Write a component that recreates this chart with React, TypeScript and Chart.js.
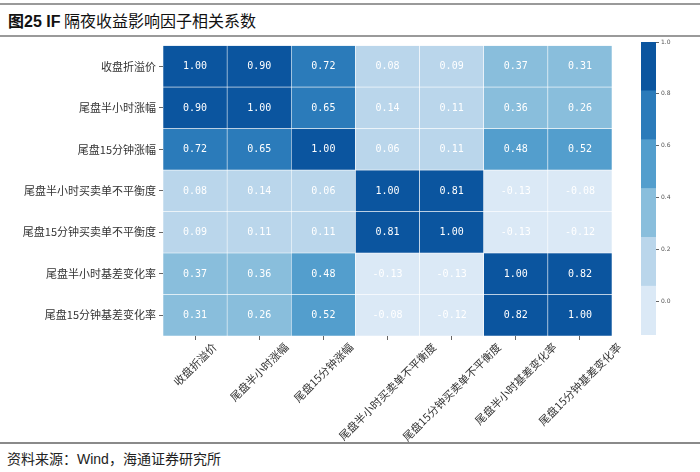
import React, { useEffect, useRef } from "react";
import { Chart, registerables } from "chart.js";

Chart.register(...registerables);

// ---- data ----
const rowLabels = [
  "收盘折溢价",
  "尾盘半小时涨幅",
  "尾盘15分钟涨幅",
  "尾盘半小时买卖单不平衡度",
  "尾盘15分钟买卖单不平衡度",
  "尾盘半小时基差变化率",
  "尾盘15分钟基差变化率",
];
const colLabels = rowLabels;

const row1 = [1.0, 0.9, 0.72, 0.08, 0.09, 0.37, 0.31];
const row2 = [0.9, 1.0, 0.65, 0.14, 0.11, 0.36, 0.26];
const row3 = [0.72, 0.65, 1.0, 0.06, 0.11, 0.48, 0.52];
const row4 = [0.08, 0.14, 0.06, 1.0, 0.813, -0.13, -0.08];
const row5 = [0.09, 0.11, 0.11, 0.813, 1.0, -0.13, -0.12];
const row6 = [0.37, 0.36, 0.48, -0.13, -0.13, 1.0, 0.82];
const row7 = [0.31, 0.26, 0.52, -0.08, -0.12, 0.82, 1.0];
const matrix = [row1, row2, row3, row4, row5, row6, row7];

const cbMin = -0.13;
const cbMax = 1.0;
const cbTicks = [0, 0.2, 0.4, 0.6, 0.8, 1.0];
const cbColors = ["#dbe9f6", "#bad6eb", "#89bedc", "#539ecd", "#2b7bba", "#0b559f"];

const cbStep = (cbMax - cbMin) / cbColors.length;
function colorFor(v: number) {
  let i = Math.floor((v - cbMin) / cbStep + 1e-9);
  if (i < 0) i = 0;
  if (i > cbColors.length - 1) i = cbColors.length - 1;
  return cbColors[i];
}

const CJK = "'Noto Sans CJK SC', 'Noto Sans', sans-serif";

export default function App() {
  const mainRef = useRef<HTMLCanvasElement>(null);
  const cbRef = useRef<HTMLCanvasElement>(null);

  useEffect(() => {
    const cellLabels = {
      id: "cellLabels",
      afterDatasetsDraw(chart: any) {
        const ctx = chart.ctx;
        ctx.save();
        ctx.font = "10px 'DejaVu Sans Mono', monospace";
        ctx.fillStyle = "#ffffff";
        ctx.textAlign = "center";
        ctx.textBaseline = "middle";
        chart.data.datasets.forEach((_ds: any, r: number) => {
          const meta = chart.getDatasetMeta(r);
          meta.data.forEach((el: any, c: number) => {
            const p = el.getProps(["x", "y", "base"], true);
            ctx.fillText(matrix[r][c].toFixed(2), p.x, (p.y + p.base) / 2 + 0.5);
          });
        });
        ctx.restore();
      },
    };

    const xLabels = {
      id: "xLabels",
      afterDraw(chart: any) {
        const ctx = chart.ctx;
        const sx = chart.scales.x;
        ctx.save();
        ctx.font = "11px " + CJK;
        ctx.fillStyle = "#333333";
        ctx.textAlign = "center";
        ctx.textBaseline = "middle";
        colLabels.forEach((lab, i) => {
          const x = sx.getPixelForTick(i);
          const L = ctx.measureText(lab).width;
          const h = 11;
          const half = ((L + h) * Math.SQRT1_2) / 2;
          ctx.save();
          ctx.translate(x, sx.top + 5 + half);
          ctx.rotate(-Math.PI / 4);
          ctx.fillText(lab, 0, 0);
          ctx.restore();
        });
        ctx.restore();
      },
    };

    const main = new Chart(mainRef.current as HTMLCanvasElement, {
      type: "bar",
      data: {
        labels: colLabels,
        datasets: matrix.map((row, r) => ({
          label: rowLabels[r],
          data: row.map(() => 1),
          backgroundColor: row.map((v) => colorFor(v)),
          borderColor: "rgba(255,255,255,0.75)",
          borderWidth: 0.6,
          borderSkipped: false,
          barPercentage: 1,
          categoryPercentage: 1,
        })),
      },
      options: {
        animation: false,
        responsive: false,
        maintainAspectRatio: false,
        layout: { padding: { top: 6, right: 18, left: 0, bottom: 0 } },
        plugins: {
          legend: { display: false },
          tooltip: { enabled: false },
        },
        scales: {
          x: {
            type: "category",
            stacked: true,
            grid: {
              offset: false,
              drawOnChartArea: false,
              drawTicks: true,
              tickLength: 4,
              color: "#666666",
            },
            border: { display: false },
            ticks: { display: false, autoSkip: false },
            afterFit(s: any) {
              s.height = 106;
            },
          },
          y: {
            type: "linear",
            stacked: true,
            reverse: true,
            min: 0,
            max: rowLabels.length,
            grid: {
              drawOnChartArea: false,
              drawTicks: true,
              tickLength: 4,
              color: "#666666",
            },
            border: { display: false },
            afterBuildTicks(s: any) {
              s.ticks = rowLabels.map((_l, i) => ({ value: i + 0.5 }));
            },
            ticks: {
              autoSkip: false,
              padding: 3,
              color: "#333333",
              font: { family: CJK, size: 11 },
              callback: (_v: any, i: number) => rowLabels[i],
            },
            afterFit(s: any) {
              s.width = 163;
            },
          },
        },
      } as any,
      plugins: [cellLabels, xLabels],
    });

    const cb = new Chart(cbRef.current as HTMLCanvasElement, {
      type: "bar",
      data: {
        labels: [""],
        datasets: cbColors.map((col, i) => ({
          data: [[cbMin + i * cbStep, cbMin + (i + 1) * cbStep]] as any,
          backgroundColor: col,
          borderWidth: 0,
          barPercentage: 1,
          categoryPercentage: 1,
          grouped: false,
        })),
      },
      options: {
        animation: false,
        responsive: false,
        maintainAspectRatio: false,
        layout: { padding: { top: 6, right: 0, left: 11, bottom: 11 } },
        plugins: { legend: { display: false }, tooltip: { enabled: false } },
        scales: {
          x: { display: false },
          y: {
            position: "right",
            min: cbMin,
            max: cbMax,
            grid: {
              drawOnChartArea: false,
              drawTicks: true,
              tickLength: 3,
              color: "#666666",
            },
            border: { display: false },
            afterBuildTicks(s: any) {
              s.ticks = cbTicks.map((v) => ({ value: v }));
            },
            ticks: {
              padding: 2,
              color: "#555555",
              font: { family: "'DejaVu Sans', sans-serif", size: 6 },
              callback: (v: any) => Number(v).toFixed(1),
            },
            afterFit(s: any) {
              s.width = 34;
            },
          },
        },
      } as any,
    });

    return () => {
      main.destroy();
      cb.destroy();
    };
  }, []);

  return (
    <div
      style={{
        position: "fixed",
        left: 0,
        top: 0,
        width: 700,
        height: 472,
        background: "#ffffff",
        overflow: "hidden",
      }}
    >
      <div style={{ position: "absolute", left: 0, top: 3, width: 700, height: 2, background: "#9a9a9a" }} />
      <div
        style={{
          position: "absolute",
          left: 8,
          top: 8,
          fontSize: 16,
          lineHeight: "24px",
          color: "#111111",
          fontFamily: "'Liberation Sans', " + CJK,
          whiteSpace: "nowrap",
        }}
      >
        <span style={{ fontWeight: "bold" }}>图25 IF</span>
        <span style={{ fontFamily: CJK }}> 隔夜收益影响因子相关系数</span>
      </div>
      <div style={{ position: "absolute", left: 0, top: 35, width: 700, height: 1.5, background: "#9a9a9a" }} />
      <canvas
        ref={mainRef}
        width={630}
        height={406}
        style={{ position: "absolute", left: 0, top: 36, width: 630, height: 406 }}
      />
      <canvas
        ref={cbRef}
        width={60}
        height={310}
        style={{ position: "absolute", left: 630, top: 36, width: 60, height: 310 }}
      />
      <div style={{ position: "absolute", left: 0, top: 442, width: 700, height: 2, background: "#8a8a8a" }} />
      <div
        style={{
          position: "absolute",
          left: 7,
          top: 449,
          fontSize: 14,
          lineHeight: "20px",
          color: "#222222",
          fontFamily: "'Liberation Sans', " + CJK,
          whiteSpace: "nowrap",
        }}
      >
        资料来源：Wind，海通证券研究所
      </div>
    </div>
  );
}
